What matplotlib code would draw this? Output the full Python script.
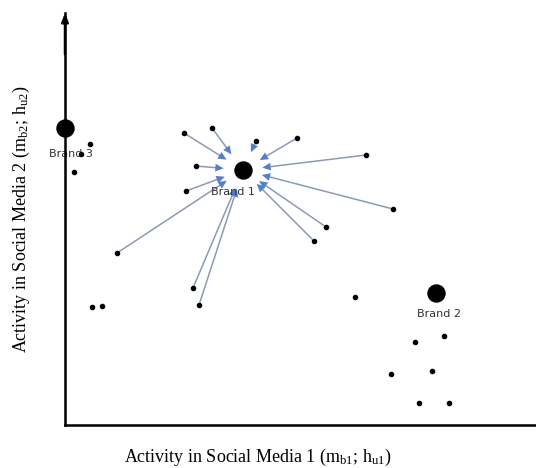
import matplotlib
matplotlib.use("Agg")
import matplotlib.pyplot as plt

# brand positions (activity units)
brand_names = ["Brand 1", "Brand 2", "Brand 3"]
brand_x = [178, 371, 0]
brand_y = [255, 132, 297]
label_dx = [-7, 2, 4]      # label offsets, points
label_dy = [-16, -15, -19]

# individual users
user_x = [119, 147, 191, 232, 301, 131, 121, 328, 261, 249, 52, 128, 134,
          16, 25, 9, 27, 37, 290, 350, 379, 326, 367, 354, 384]
user_y = [292, 297, 284, 287, 270, 259, 234, 216, 198, 184, 172, 137, 120,
          271, 281, 253, 118, 119, 128, 83, 89, 51, 54, 22, 22]
# users pulled towards Brand 1
follows_brand1 = list(range(13))

plt.rcParams["mathtext.fontset"] = "custom"
plt.rcParams["mathtext.rm"] = "Liberation Serif"
plt.rcParams["mathtext.it"] = "Liberation Serif:italic"

fig = plt.figure(figsize=(5.36, 4.68), dpi=100)
ax = fig.add_axes([65 / 536, 43 / 468, 471 / 536, 412 / 468])
ax.set_xlim(0, 471)
ax.set_ylim(0, 412)

for i in follows_brand1:
    # grey-blue shaft, brighter blue head
    ax.annotate("", xy=(brand_x[0], brand_y[0]), xytext=(user_x[i], user_y[i]),
                arrowprops=dict(arrowstyle="-", color="#8b9bb6", lw=1.1,
                                shrinkA=2, shrinkB=18),
                zorder=2)
    ax.annotate("", xy=(brand_x[0], brand_y[0]), xytext=(user_x[i], user_y[i]),
                arrowprops=dict(arrowstyle="-|>,head_length=0.6,head_width=0.28",
                                color="#5580c4", lw=0.0, shrinkA=2, shrinkB=14),
                zorder=2)

ax.scatter(user_x, user_y, s=9, color="black", zorder=3)
ax.scatter(brand_x, brand_y, s=150, color="black", zorder=4, clip_on=False)
for name, bx, by, dx, dy in zip(brand_names, brand_x, brand_y, label_dx, label_dy):
    ax.annotate(name, (bx, by), xytext=(dx, dy), textcoords="offset points",
                ha="center", va="center", fontsize=8, color="#333333", zorder=2)

for s in ("top", "right"):
    ax.spines[s].set_visible(False)
ax.spines["left"].set_linewidth(1.8)
ax.spines["bottom"].set_linewidth(1.8)
ax.set_xticks([])
ax.set_yticks([])
ax.annotate("", xy=(0, 1.0), xytext=(0, 0.9), xycoords="axes fraction",
            arrowprops=dict(arrowstyle="-|>,head_length=0.5,head_width=0.2",
                            color="black", lw=1.8, shrinkA=0, shrinkB=0))

ax.set_xlabel(r"Activity in Social Media 1 (m$_{\mathrm{b1}}$; h$_{\mathrm{u1}}$)",
              family="Liberation Serif", fontsize=13)
ax.set_ylabel(r"Activity in Social Media 2 (m$_{\mathrm{b2}}$; h$_{\mathrm{u2}}$)",
              family="Liberation Serif", fontsize=13)
ax.xaxis.set_label_coords(0.41, -0.052)
ax.yaxis.set_label_coords(-0.07, 0.5)

fig.savefig("out.png", dpi=100, facecolor="white")
